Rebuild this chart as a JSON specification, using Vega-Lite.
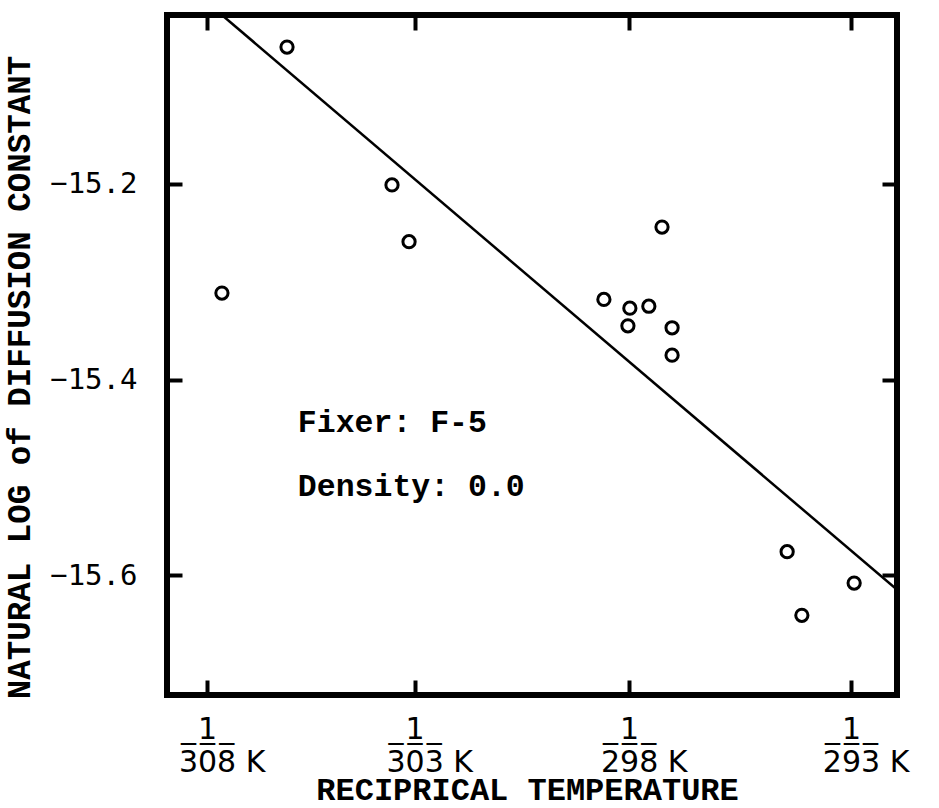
{
  "$schema": "https://vega.github.io/schema/vega-lite/v6.json",
  "width": 730,
  "height": 680,
  "autosize": "none",
  "padding": {"left": 167, "top": 15, "right": 42, "bottom": 113},
  "background": "white",
  "config": {
    "view": {"stroke": "black", "strokeWidth": 6},
    "axis": {
      "domain": false,
      "grid": false,
      "tickColor": "black",
      "tickWidth": 4,
      "tickSize": -15,
      "labelColor": "black",
      "titleColor": "black"
    }
  },
  "datasets": {
    "points": [
      {"recip_T_x1000": 3.2674, "ln_D": -15.060},
      {"recip_T_x1000": 3.2506, "ln_D": -15.3115},
      {"recip_T_x1000": 3.2945, "ln_D": -15.201},
      {"recip_T_x1000": 3.2989, "ln_D": -15.259},
      {"recip_T_x1000": 3.3642, "ln_D": -15.244},
      {"recip_T_x1000": 3.3492, "ln_D": -15.318},
      {"recip_T_x1000": 3.3559, "ln_D": -15.327},
      {"recip_T_x1000": 3.3554, "ln_D": -15.345},
      {"recip_T_x1000": 3.3608, "ln_D": -15.325},
      {"recip_T_x1000": 3.3668, "ln_D": -15.347},
      {"recip_T_x1000": 3.3668, "ln_D": -15.375},
      {"recip_T_x1000": 3.3965, "ln_D": -15.576},
      {"recip_T_x1000": 3.4138, "ln_D": -15.608},
      {"recip_T_x1000": 3.4003, "ln_D": -15.641}
    ],
    "fit": [
      {"recip_T_x1000": 3.2506, "ln_D": -15.0272},
      {"recip_T_x1000": 3.4249, "ln_D": -15.615}
    ],
    "notes": [
      {"recip_T_x1000": 3.2702, "ln_D": -15.4444, "label": "Fixer: F-5"},
      {"recip_T_x1000": 3.2702, "ln_D": -15.5098, "label": "Density: 0.0"}
    ]
  },
  "layer": [
    {
      "data": {"name": "points"},
      "mark": {"type": "point", "shape": "circle", "filled": false, "stroke": "black", "strokeWidth": 3, "size": 150, "opacity": 1},
      "encoding": {
        "x": {
          "field": "recip_T_x1000", "type": "quantitative",
          "scale": {"domain": [3.23642, 3.42486], "nice": false, "zero": false},
          "axis": {
            "orient": "bottom",
            "values": [3.24675, 3.30033, 3.3557, 3.41297],
            "labelExpr": "datum.value < 3.27 ? ['\u200b\u20071', '3\u03050\u03058\u0305 K'] : datum.value < 3.33 ? ['\u200b\u20071', '3\u03050\u03053\u0305 K'] : datum.value < 3.38 ? ['\u200b\u20071', '2\u03059\u03058\u0305 K'] : ['\u200b\u20071', '2\u03059\u03053\u0305 K']",
            "labelFont": "DejaVu Sans",
            "labelFontSize": 30,
            "labelLineHeight": 33,
            "labelAlign": "left",
            "labelOffset": -28.6,
            "labelPadding": 34,
            "labelFlush": false,
            "title": "RECIPRICAL TEMPERATURE",
            "titleFont": "Liberation Mono",
            "titleFontWeight": "bold",
            "titleFontSize": 32,
            "titleX": 360,
            "titleY": 94,
            "titleBaseline": "middle",
            "titleAlign": "center"
          }
        },
        "y": {
          "field": "ln_D", "type": "quantitative",
          "scale": {"domain": [-15.7225, -15.0272], "nice": false, "zero": false},
          "axis": {
            "orient": "left",
            "values": [-15.2, -15.4, -15.6],
            "format": ".1f",
            "labelFont": "DejaVu Sans Mono",
            "labelFontSize": 29,
            "labelPadding": 45,
            "labelFlush": false,
            "title": "NATURAL LOG of DIFFUSION CONSTANT",
            "titleFont": "Liberation Mono",
            "titleFontWeight": "bold",
            "titleFontSize": 32.5,
            "titleAngle": 270,
            "titleX": -148,
            "titleY": 362,
            "titleBaseline": "middle",
            "titleAlign": "center"
          }
        }
      }
    },
    {
      "data": {"name": "fit"},
      "mark": {"type": "line", "color": "black", "strokeWidth": 2.5, "clip": true},
      "encoding": {
        "x": {
          "field": "recip_T_x1000", "type": "quantitative",
          "axis": {"orient": "top", "values": [3.24675, 3.30033, 3.3557, 3.41297], "labels": false, "title": null}
        },
        "y": {
          "field": "ln_D", "type": "quantitative",
          "axis": {"orient": "right", "values": [-15.2, -15.4, -15.6], "labels": false, "title": null}
        }
      }
    },
    {
      "data": {"name": "notes"},
      "mark": {"type": "text", "align": "left", "baseline": "middle", "font": "Liberation Mono", "fontWeight": "bold", "fontSize": 31.5, "color": "black"},
      "encoding": {
        "x": {"field": "recip_T_x1000", "type": "quantitative", "axis": null},
        "y": {"field": "ln_D", "type": "quantitative", "axis": null},
        "text": {"field": "label"}
      }
    }
  ],
  "resolve": {"axis": {"x": "independent", "y": "independent"}}
}
